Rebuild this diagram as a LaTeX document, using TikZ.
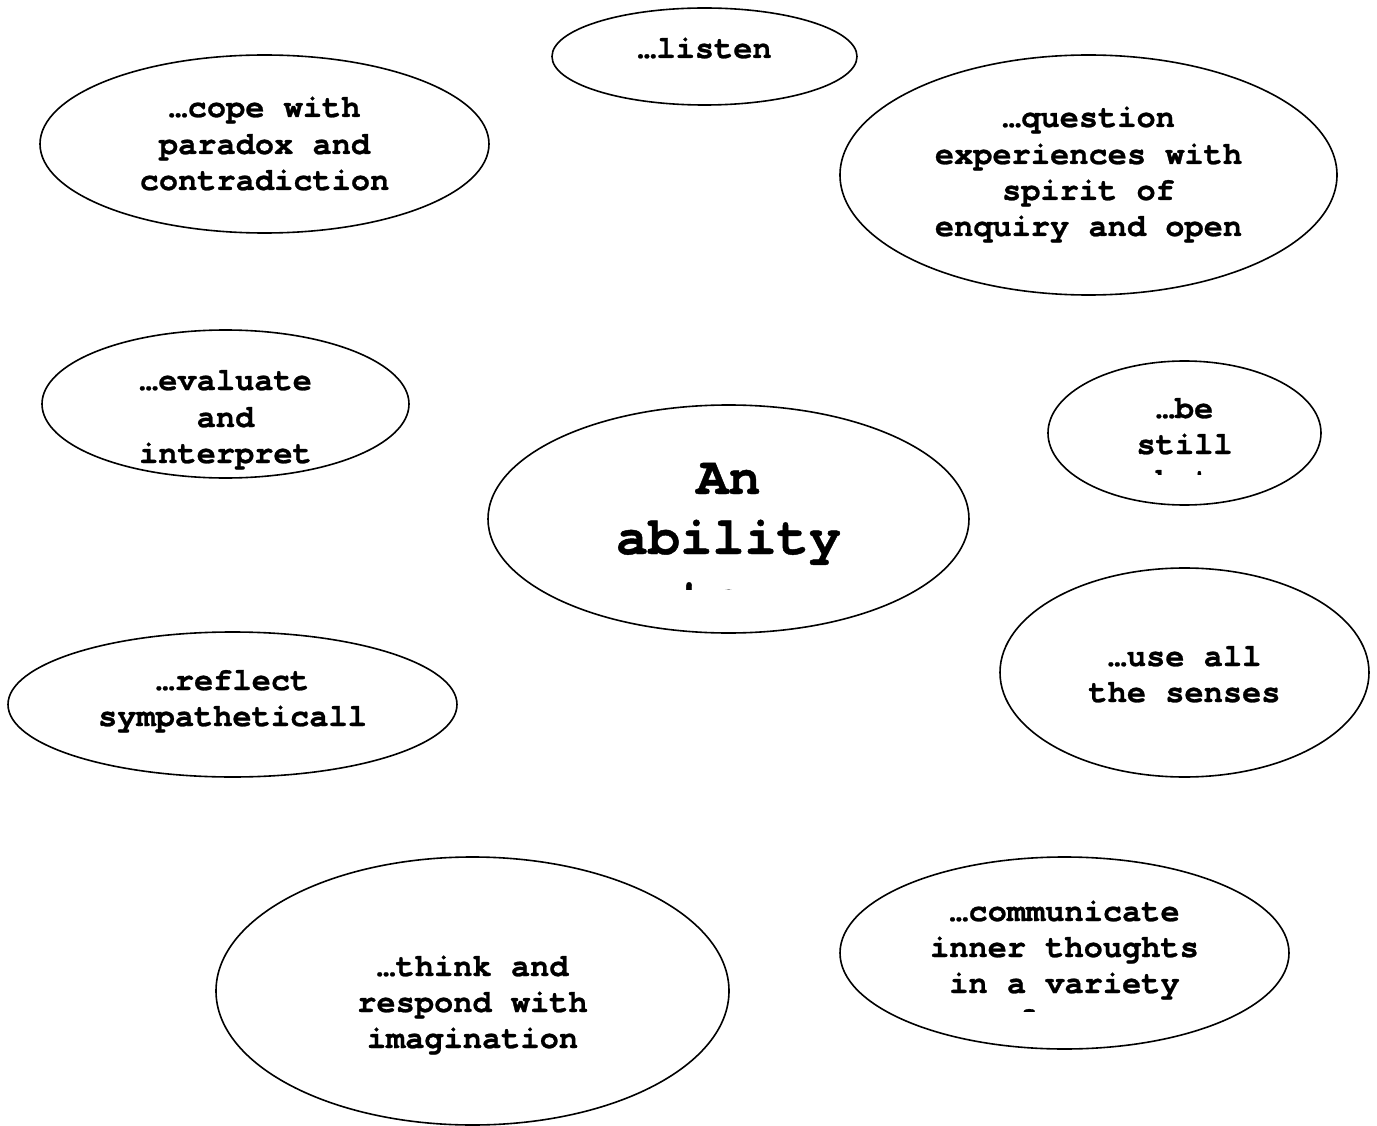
\documentclass[tikz,border=0pt]{standalone}
\usepackage{fontspec}
\setmonofont{texgyrecursor-regular.otf}[BoldFont=texgyrecursor-bold.otf, BoldFeatures={FakeBold=0.8}, Ligatures={NoCommon,NoRequired}]
\usetikzlibrary{shapes.geometric}
\tikzset{
  bubble/.style={draw, ellipse, line width=1.6pt, inner sep=0pt},
  lbl/.style={font=\ttfamily\bfseries\fontsize{32}{36}\selectfont, anchor=base, inner sep=0pt},
  biglbl/.style={font=\ttfamily\bfseries\fontsize{53.6}{60}\selectfont, anchor=base, inner sep=0pt},
}
\begin{document}
\begin{tikzpicture}[x=1pt,y=-1pt]
\useasboundingbox (0,0) rectangle (1377,1126);
% ellipses
\node[bubble, minimum width=305, minimum height=97]  (listen)  at (704.5,56.5) {};
\node[bubble, minimum width=449, minimum height=178] (cope)    at (264.5,144) {};
\node[bubble, minimum width=497, minimum height=240] (question) at (1088.5,175) {};
\node[bubble, minimum width=367, minimum height=148] (evaluate) at (225.5,404) {};
\node[bubble, minimum width=273, minimum height=144] (still)   at (1184.5,433) {};
\node[bubble, minimum width=481, minimum height=228] (ability) at (728.5,519) {};
\node[bubble, minimum width=369, minimum height=209] (senses)  at (1184.5,672.5) {};
\node[bubble, minimum width=449, minimum height=145] (reflect) at (232.5,704.5) {};
\node[bubble, minimum width=513, minimum height=268] (think)   at (472.5,991) {};
\node[bubble, minimum width=449, minimum height=192] (communicate) at (1064.5,953) {};
% texts
\node[lbl] (listen1) at (704.5,58) {…listen};
\node[lbl] (cope1) at (264.5,117) {…cope with};
\node[lbl] (cope2) at (264.5,154) {paradox and};
\node[lbl] (cope3) at (264.5,190) {contradiction};
\node[lbl] (question1) at (1088.5,127) {…question};
\node[lbl] (question2) at (1088.5,164) {experiences with};
\node[lbl] (question3) at (1088.5,200) {spirit of};
\node[lbl] (question4) at (1088.5,236) {enquiry and open};
\node[lbl] (evaluate1) at (225.5,390) {…evaluate};
\node[lbl] (evaluate2) at (225.5,427) {and};
\node[lbl] (evaluate3) at (225.5,463) {interpret};
\node[lbl] (still1) at (1184.5,418) {…be};
\node[lbl] (still2) at (1184.5,454) {still};
\begin{scope}
  \clip (1050,440) rectangle (1320,474);
  \node[lbl] (still3) at (1184.5,490) {but};
\end{scope}
\node[biglbl] (ability1) at (728.5,494) {An};
\node[biglbl] (ability2) at (728.5,554) {ability};
\begin{scope}
  \clip (500,560) rectangle (960,589);
  \node[biglbl] (ability3) at (728.5,614) {to…};
\end{scope}
\node[lbl] (senses1) at (1184.5,666) {…use all};
\node[lbl] (senses2) at (1184.5,702) {the senses};
\node[lbl] (reflect1) at (232.5,690) {…reflect};
\node[lbl] (reflect2) at (232.5,726) {sympatheticall};
\node[lbl] (think1) at (472.5,976) {…think and};
\node[lbl] (think2) at (472.5,1012) {respond with};
\node[lbl] (think3) at (472.5,1048) {imagination};
\node[lbl] (communicate1) at (1064.5,921) {…communicate};
\node[lbl] (communicate2) at (1064.5,957) {inner thoughts};
\node[lbl] (communicate3) at (1064.5,993) {in a variety};
\begin{scope}
  \clip (850,1000) rectangle (1280,1011);
  \node[lbl] (communicate4) at (1064.5,1029) {of ways};
\end{scope}
\end{tikzpicture}
\end{document}
